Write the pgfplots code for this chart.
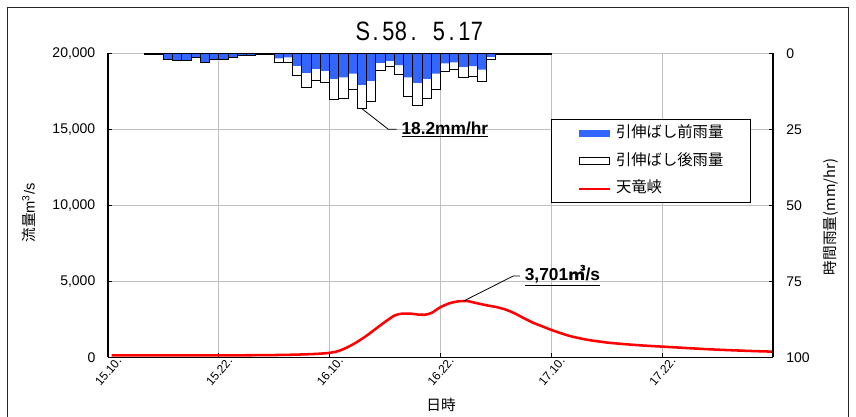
\documentclass[border=0pt]{standalone}
\usepackage{fontspec}
\setmainfont{Liberation Sans}
\newfontfamily\jp{Noto Sans CJK JP}
\usepackage{graphicx}
\usepackage{pgfplots}
\usepackage{pgfplotstable}
\pgfplotsset{compat=1.18}
\definecolor{rainblue}{RGB}{51,102,255}
\definecolor{gridgray}{RGB}{192,192,192}
\newcommand\cell[1]{\makebox[9.5pt]{\scalebox{0.82}[1]{#1}}}

\pgfplotstableread{
x before after
4.5 0.2 0.2
5.5 0.3 0.3
6.5 2.0 2.0
7.5 2.4 2.4
8.5 2.2 2.2
9.5 1.3 1.3
10.5 3.1 3.1
11.5 2.0 2.0
12.5 2.0 2.0
13.5 1.3 1.3
14.5 0.7 0.7
15.5 0.7 0.7
16.5 0.5 0.5
17.5 0.3 0.3
18.5 1.6 3.1
19.5 1.3 2.9
20.5 4.1 7.3
21.5 6.4 11.2
22.5 5.1 8.8
23.5 5.7 9.5
24.5 8.4 15.0
25.5 7.9 14.7
26.5 6.6 11.7
27.5 10.3 18.2
28.5 9.0 15.8
29.5 3.1 5.7
30.5 2.4 4.2
31.5 3.8 6.8
32.5 7.9 14.1
33.5 9.7 17.2
34.5 8.4 14.7
35.5 6.6 11.7
36.5 3.3 5.9
37.5 2.9 5.3
38.5 4.4 7.9
39.5 4.2 7.5
40.5 5.3 9.2
41.5 1.1 2.0
42.5 0.2 0.3
43.5 0.2 0.3
44.5 0.1 0.2
45.5 0.3 0.5
46.5 0.2 0.3
47.5 0.2 0.3
}\rain

\pgfplotstableread{
h q
0.4 120
4 120
8 120
12 125
16 135
19 155
21 185
22.5 220
24 290
25 420
26 680
27 1020
28 1420
29 1880
30 2330
31 2740
31.8 2870
32.8 2870
33.6 2810
34.3 2800
35 2910
36 3300
37 3560
38 3690
38.5 3701
39 3690
40 3550
41 3420
42 3310
43 3150
44 2900
45 2580
46 2280
47 2040
48 1800
49 1590
50 1400
51 1260
52 1140
54 970
56 860
58 770
60 700
62 630
64 560
66 500
68 450
70 405
72 370
}\flow

\begin{document}
\begin{tikzpicture}
\useasboundingbox (0pt,0pt) rectangle (642pt,312.75pt);
\draw[line width=0.9pt, black!85] (5.6pt,0pt) -- (5.6pt,307.1pt) -- (636.4pt,307.1pt) -- (636.4pt,0pt);
\coordinate (SW) at (81pt,44.8pt);

% title
\node at (315pt,289.5pt) {\fontsize{19.9}{22}\selectfont\cell{S}\cell{.}\cell{5}\cell{8}\cell{.}\cell{}\cell{5}\cell{.}\cell{1}\cell{7}};
% axis labels
\node[rotate=90] at (21.75pt,153pt) {\fontsize{11}{13}\selectfont{\jp 流量}m\textsuperscript{3}/s};
\node[rotate=90] at (623pt,150pt) {\fontsize{11}{13}\selectfont\jp 時間雨量(mm/hr)};
\node at (330.75pt,9pt) {\fontsize{11}{13}\selectfont\jp 日時};

\begin{axis}[
  at={(SW)}, anchor=south west, scale only axis,
  width=498.75pt, height=227.85pt,
  xmin=0, xmax=72, ymin=0, ymax=20000,
  axis x line*=bottom, axis y line*=left,
  axis line style={line width=1pt, black},
  xtick={0,12,24,36,48,60},
  xticklabels={15.10.,15.22.,16.10.,16.22.,17.10.,17.22.},
  ytick={0,5000,10000,15000,20000},
  scaled y ticks=false,
  grid=major,
  major grid style={gridgray, line width=0.75pt},
  tick align=inside,
  major tick length=3pt,
  tick style={black, line width=0.75pt},
  yticklabel style={/pgf/number format/.cd,1000 sep={,},assume math mode=true,/tikz/.cd,font=\fontsize{10.5}{12}\selectfont, xshift=-6pt},
  xticklabel style={font=\fontsize{9}{10}\selectfont, rotate=50, anchor=east, xshift=8pt, yshift=-7pt},
]
\addplot[red, line width=1.9pt, smooth, tension=0.4] table[x=h, y=q] {\flow};
\draw[line width=0.6pt] (axis cs:38.5,3701) -- (axis cs:43.88,5352) -- (axis cs:44.6,5352);
\node[anchor=west, inner sep=0pt] at (axis cs:45.1,5352) {\fontsize{13}{15}\selectfont\bfseries\underline{3,701{\jp ㎥}/s}};
\end{axis}

\begin{axis}[
  at={(SW)}, anchor=south west, scale only axis,
  width=498.75pt, height=227.85pt,
  xmin=0, xmax=72, ymin=-100, ymax=0,
  axis x line=none, axis y line*=right,
  axis line style={line width=1pt, black},
  ytick={-100,-75,-50,-25,0},
  yticklabels={100,75,50,25,0},
  tick align=inside,
  major tick length=3pt,
  tick style={black, line width=0.75pt},
  yticklabel style={font=\fontsize{10.5}{12}\selectfont, xshift=6.5pt},
  legend cell align=left,
  legend style={at={(0.666,0.784)}, anchor=north west, draw=black, line width=0.75pt,
    inner xsep=20pt, inner ysep=5pt, row sep=9.3pt, column sep=3.5pt,
    font=\fontsize{11.5}{13}\selectfont\jp,
    nodes={inner sep=0pt, text height=8.8pt, text depth=2.5pt}},
]
\addplot[ybar, bar width=1, bar shift=0, fill=white, draw=black, line width=0.75pt, forget plot] table[x=x, y expr=-\thisrow{after}] {\rain};
\addplot[ybar, bar width=1, bar shift=0, fill=rainblue, draw=none, forget plot] table[x=x, y expr=-\thisrow{before}] {\rain};
\addplot[ybar, bar width=1, bar shift=0, fill=none, draw=black, line width=0.75pt, forget plot] table[x=x, y expr=-\thisrow{after}] {\rain};
\addlegendimage{legend image code/.code={\fill[rainblue] (0pt,-2.3pt) rectangle (23pt,2.3pt);}}
\addlegendentry{引伸ばし前雨量}
\addlegendimage{legend image code/.code={\draw[black, line width=0.75pt, fill=white] (0pt,-2.6pt) rectangle (23pt,2.6pt);}}
\addlegendentry{引伸ばし後雨量}
\addlegendimage{legend image code/.code={\draw[red, line width=1.5pt] (0pt,0pt) -- (23.5pt,0pt);}}
\addlegendentry{天竜峡}
\draw[line width=0.6pt] (axis cs:27.5,-18.2) -- (axis cs:30.35,-24.95) -- (axis cs:31.26,-24.95);
\node[anchor=west, inner sep=0pt] at (axis cs:31.75,-24.95) {\fontsize{13}{15}\selectfont\bfseries\underline{18.2mm/hr}};
\end{axis}
\end{tikzpicture}
\end{document}
